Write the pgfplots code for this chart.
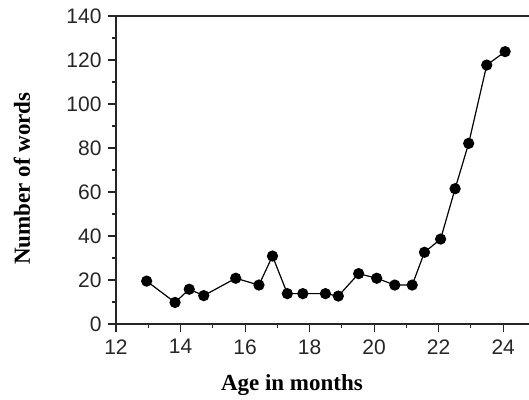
\documentclass[border=0pt]{standalone}
\usepackage{pgfplots}
\pgfplotsset{compat=1.18}
\usepackage{fontspec}
\setmainfont{Liberation Sans}
\newfontfamily\serifb{Liberation Serif}
\begin{document}
\begin{tikzpicture}
\begin{axis}[
  name=ax,
  scale only axis,
  width=413pt, height=308pt,
  xmin=12, xmax=24.8, ymin=0, ymax=140,
  axis x line=box, axis y line=left,
  axis line style={black!85, line width=1.3pt, -},
  xtick pos=bottom, ytick pos=left,
  xtick={12,14,...,24}, minor xtick={13,15,...,25},
  ytick={0,20,...,140}, minor ytick={10,30,...,130},
  tick align=outside,
  major tick length=8pt, minor tick length=4pt,
  tick style={black!85, line width=1.1pt},
  /pgf/number format/assume math mode=true,
  ticklabel style={font=\fontsize{21}{21}\selectfont, text=black!85},
  yticklabel style={xshift=-3pt},
  xticklabel style={yshift=-4pt},
  xlabel={Age in months},
  ylabel={Number of words},
  xlabel style={font=\serifb\bfseries\fontsize{23}{23}\selectfont, at={([yshift=-61pt]rel axis cs:0.426,0)}, anchor=center},
  ylabel style={font=\serifb\bfseries\fontsize{23}{23}\selectfont, at={([xshift=-94pt]rel axis cs:0,0.472)}, anchor=center, rotate=0},
  clip=false,
]
\addplot[black, line width=1.2pt, mark=*, mark size=5pt, mark options={solid, fill=black}] coordinates {
(12.95,19.5) (13.83,9.8) (14.27,15.8) (14.72,12.9) (15.71,20.8) (16.43,17.7)
(16.85,30.9) (17.31,13.8) (17.79,13.8) (18.49,13.8) (18.89,12.7) (19.52,22.9)
(20.08,20.8) (20.64,17.7) (21.18,17.7) (21.56,32.6) (22.06,38.6) (22.51,61.5)
(22.93,82.1) (23.49,117.7) (24.06,123.8)
};
\end{axis}
\pgfresetboundingbox
\path ([xshift=-116pt,yshift=-75pt]ax.south west) rectangle ([yshift=16pt]ax.north east);
\end{tikzpicture}
\end{document}
